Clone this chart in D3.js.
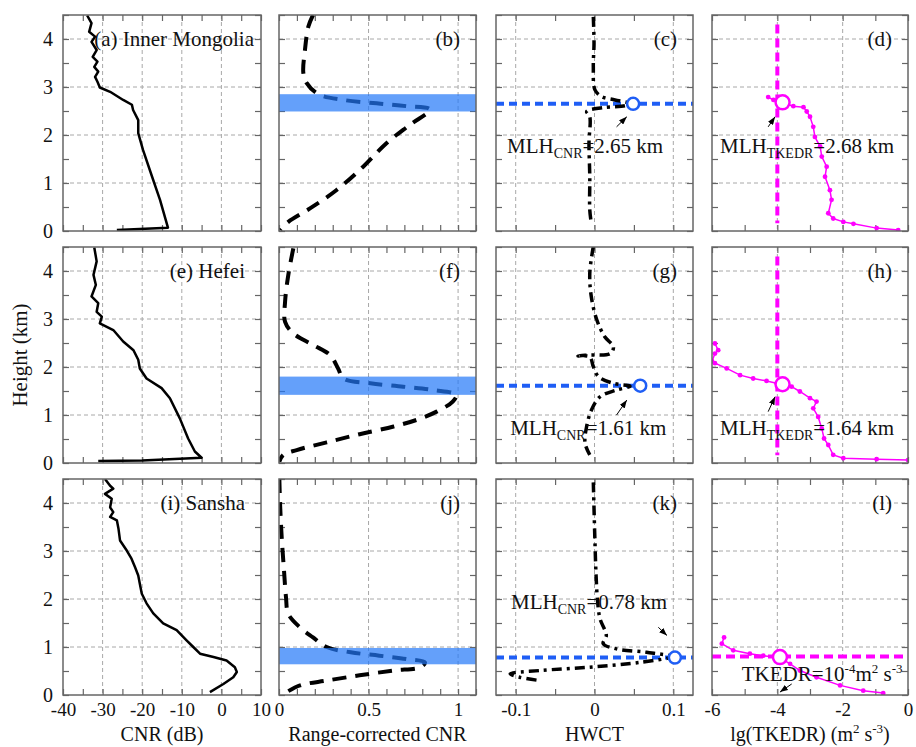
<!DOCTYPE html>
<html>
<head>
<meta charset="utf-8">
<script src="https://cdn.jsdelivr.net/npm/d3@7"></script>
<style>
body { margin: 0; background: #fff; }
text { font-family: "Liberation Serif", "Times New Roman", serif; fill: #111; }
</style>
</head>
<body>
<div id="chart"></div>
<script>
// values: [height (km), value]
const heightTicks = [0, 1, 2, 3, 4];
const cnrTicks = [-40, -30, -20, -10, 0, 10];
const rcnrTicks = [0, 0.5, 1];
const hwctTicks = [-0.1, 0, 0.1];
const tkedrTicks = [-6, -4, -2, 0];

const siteNames = ["(a) Inner Mongolia", "(e) Hefei", "(i) Sansha"];
const panelLabels = [["(b)", "(c)", "(d)"], ["(f)", "(g)", "(h)"], ["(j)", "(k)", "(l)"]];
const mlhCnr = [2.65, 1.61, 0.78];
const mlhTkedr = [2.68, 1.64];
const hwctPeak = [0.049, 0.058, 0.102];
const tkedrCircle = [-3.84, -3.84, -3.92];
const tkedrThresholdHeight = 0.8;
const bands = [[2.49, 2.85], [1.42, 1.80], [0.64, 0.98]];

const cnrA = [[4.49,-33.9],[4.33,-32.8],[4.15,-33.4],[4.05,-31.9],[3.94,-32.8],[3.77,-31.5],[3.63,-32.5],[3.53,-31.3],[3.42,-32.1],[3.32,-31.1],[3.21,-31.9],[3.11,-31.3],[2.99,-30.7],[2.9,-28.1],[2.73,-24.8],[2.63,-22.6],[2.52,-22.3],[2.31,-21],[2.04,-21],[1.69,-19.8],[1.13,-17.5],[0.65,-15.5],[0.07,-13.5],[0.02,-26.4]];
const cnrE = [[4.49,-32.1],[4.2,-31.5],[3.92,-32.3],[3.71,-31.7],[3.47,-32.8],[3.33,-31.1],[3.15,-31.5],[3.05,-30.2],[2.91,-30.7],[2.77,-27.3],[2.53,-24.8],[2.35,-22.2],[2.15,-21],[1.97,-20.6],[1.76,-18.9],[1.56,-15.1],[1.35,-13.0],[0.93,-10.5],[0.51,-8.4],[0.24,-6.7],[0.11,-5.0],[0.05,-20],[0.04,-31.1]];
const cnrI = [[4.5,-29.4],[4.36,-28.1],[4.3,-27.3],[4.19,-29.4],[4.09,-27.7],[3.91,-28.1],[3.81,-27.3],[3.71,-28.1],[3.64,-26.4],[3.47,-26.0],[3.22,-25.6],[3.01,-23.9],[2.84,-22.7],[2.66,-21.8],[2.49,-21.0],[2.32,-20.6],[2.11,-20.1],[1.91,-18.9],[1.7,-17.2],[1.49,-14.7],[1.35,-11.3],[1.14,-8.8],[1.0,-7.1],[0.86,-5.4],[0.79,-2.0],[0.72,1.3],[0.58,3.4],[0.48,3.9],[0.37,3.0],[0.23,0.5],[0.06,-2.9]];

const rcnrB = [[4.5,0.19],[4.26,0.164],[3.77,0.145],[3.29,0.136],[3.08,0.155],[2.85,0.22],[2.73,0.36],[2.66,0.545],[2.6,0.713],[2.53,0.843],[2.21,0.73],[1.83,0.6],[1.34,0.47],[0.85,0.32],[0.47,0.173],[0.19,0.052],[0.02,0.006]];
const rcnrF = [[4.47,0.08],[3.92,0.052],[3.36,0.034],[2.94,0.034],[2.7,0.08],[2.46,0.19],[2.25,0.285],[1.97,0.33],[1.76,0.36],[1.66,0.51],[1.59,0.694],[1.52,0.86],[1.42,0.99],[1.28,0.97],[1.07,0.88],[0.9,0.77],[0.76,0.64],[0.6,0.45],[0.43,0.266],[0.27,0.099],[0.17,0.024],[0.03,0.002]];
const rcnrJ = [[4.5,0.002],[3.98,0.006],[3.29,0.015],[2.59,0.028],[2.04,0.039],[1.69,0.052],[1.41,0.117],[1.2,0.19],[1.0,0.266],[0.89,0.4],[0.82,0.56],[0.75,0.713],[0.68,0.815],[0.58,0.79],[0.51,0.64],[0.41,0.45],[0.3,0.266],[0.2,0.117],[0.06,0.043]];

const hwctC = [[4.46,-0.0015],[3.91,-0.0006],[3.42,-0.0015],[2.94,0.0006],[2.8,0.009],[2.73,0.026],[2.66,0.043],[2.62,0.041],[2.57,0.011],[2.49,-0.01],[2.38,-0.006],[1.83,-0.007],[1.13,-0.006],[0.44,-0.006],[0.16,-0.004]];
const hwctG = [[4.51,-0.0015],[3.95,-0.006],[3.46,-0.004],[2.98,0.003],[2.63,0.013],[2.42,0.024],[2.28,0.02],[2.25,-0.006],[2.23,-0.021],[2.21,-0.006],[2.01,-0.0015],[1.8,0.005],[1.66,0.024],[1.6,0.045],[1.52,0.028],[1.38,0.007],[1.1,-0.004],[0.76,-0.01],[0.41,-0.012],[0.17,-0.006]];
const hwctK = [[4.43,-0.0015],[3.88,-0.0006],[3.18,0.0006],[2.49,0.002],[1.93,0.004],[1.59,0.007],[1.24,0.015],[1.07,0.011],[0.96,0.028],[0.89,0.066],[0.8,0.098],[0.68,0.058],[0.58,-0.006],[0.51,-0.069],[0.44,-0.107],[0.37,-0.095],[0.3,-0.069]];

const tkedrD = [[2.79,-4.28],[2.73,-4.12],[2.68,-3.84],[2.6,-3.51],[2.58,-3.2],[2.49,-3.1],[2.38,-3.0],[2.17,-2.9],[1.96,-2.85],[1.76,-2.69],[1.55,-2.64],[1.34,-2.49],[1.13,-2.54],[0.85,-2.39],[0.65,-2.34],[0.37,-2.44],[0.26,-2.29],[0.19,-1.98],[0.15,-1.67],[0.06,-0.96],[0.02,-0.3]];
const tkedrH = [[2.49,-5.91],[2.35,-5.81],[2.28,-5.91],[2.12,-6.0],[2.08,-5.91],[1.97,-5.55],[1.83,-5.14],[1.76,-4.74],[1.71,-4.33],[1.66,-4.02],[1.63,-3.84],[1.59,-3.56],[1.49,-3.31],[1.35,-3.0],[1.28,-2.8],[1.14,-2.9],[0.96,-2.75],[0.72,-2.64],[0.51,-2.57],[0.375,-2.44],[0.17,-2.29],[0.1,-1.98],[0.08,-0.96],[0.06,0]];
const tkedrL = [[1.2,-5.63],[1.07,-5.7],[0.93,-5.35],[0.86,-4.84],[0.82,-4.43],[0.775,-3.92],[0.65,-3.61],[0.51,-3.31],[0.37,-2.8],[0.2,-2.08],[0.09,-1.37],[0.04,-0.76]];

const cnrSeries = [cnrA, cnrE, cnrI];
const rcnrSeries = [rcnrB, rcnrF, rcnrJ];
const hwctSeries = [hwctC, hwctG, hwctK];
const tkedrSeries = [tkedrD, tkedrH, tkedrL];

// layout
const width = 916, height = 747;
const colX = [[63, 261], [279, 476], [496, 693], [712, 908]];
const rowY = [[15, 231], [247, 463], [479, 695]];
const colDomains = [[-40, 10], [0, 1.1], [-0.125, 0.125], [-6, 0]];
const colMajor = [cnrTicks, rcnrTicks, hwctTicks, tkedrTicks];
const colMinorStep = [5, 0.1, 0.05, 1];
const colTitles = ["CNR (dB)", "Range-corrected CNR", "HWCT", null];
const serif = "Liberation Serif, Times New Roman, serif";

const blue = "#1f5ef5";
const magenta = "#ff00ff";

let svg = d3.select("#chart").append("svg")
  .attr("width", width)
  .attr("height", height);

let defs = svg.append("defs");
defs.append("marker")
  .attr("id", "arrow")
  .attr("markerUnits", "userSpaceOnUse")
  .attr("markerWidth", 8).attr("markerHeight", 6)
  .attr("refX", 8).attr("refY", 3)
  .attr("orient", "auto")
  .append("path").attr("d", "M0,0L8,3L0,6z").attr("fill", "#000");

function minorTicks(domain, step) {
  let out = [];
  let start = Math.ceil(domain[0] / step - 1e-9);
  let end = Math.floor(domain[1] / step + 1e-9);
  for (let i = start; i <= end; i++) out.push(+(i * step).toFixed(4));
  return out;
}

function mlhText(g, x, y, xv, yv, sub, rest) {
  let t = g.append("text")
    .attr("x", x(xv)).attr("y", y(yv))
    .attr("font-size", 21);
  t.append("tspan").text("MLH");
  t.append("tspan").attr("font-size", 14).attr("dy", 5).text(sub);
  t.append("tspan").attr("dy", -5).text(rest);
}

function arrow(g, x, y, from, to) {
  g.append("line")
    .attr("x1", x(from[0])).attr("y1", y(from[1]))
    .attr("x2", x(to[0])).attr("y2", y(to[1]))
    .attr("stroke", "#000").attr("stroke-width", 1)
    .attr("marker-end", "url(#arrow)");
}

for (let r = 0; r < 3; r++) {
  for (let c = 0; c < 4; c++) {
    let [x0, x1] = colX[c];
    let [y0, y1] = rowY[r];
    let x = d3.scaleLinear().domain(colDomains[c]).range([x0, x1]);
    let y = d3.scaleLinear().domain([0, 4.5]).range([y1, y0]);
    let g = svg.append("g");
    let clipId = `clip-${r}-${c}`;
    defs.append("clipPath").attr("id", clipId)
      .append("rect").attr("x", x0).attr("y", y0).attr("width", x1 - x0).attr("height", y1 - y0);

    // grid
    let grid = g.append("g").attr("stroke", "#a8a8a8").attr("stroke-width", 1).attr("stroke-dasharray", "4,3");
    grid.selectAll(".hg").data(heightTicks.filter(d => d > 0))
      .enter().append("line")
      .attr("x1", x0).attr("x2", x1)
      .attr("y1", d => y(d)).attr("y2", d => y(d));
    grid.selectAll(".vg").data(colMajor[c].filter(d => x(d) > x0 + 1 && x(d) < x1 - 1))
      .enter().append("line")
      .attr("y1", y0).attr("y2", y1)
      .attr("x1", d => x(d)).attr("x2", d => x(d));

    // inward ticks on all sides
    let xt = minorTicks(colDomains[c], colMinorStep[c]);
    let yt = minorTicks([0, 4.5], 0.5);
    g.append("g").attr("transform", `translate(0,${y1})`).call(d3.axisTop(x).tickValues(xt).tickFormat("").tickSizeInner(6).tickSizeOuter(0));
    g.append("g").attr("transform", `translate(0,${y0})`).call(d3.axisBottom(x).tickValues(xt).tickFormat("").tickSizeInner(6).tickSizeOuter(0));
    g.append("g").attr("transform", `translate(${x0},0)`).call(d3.axisRight(y).tickValues(yt).tickFormat("").tickSizeInner(6).tickSizeOuter(0));
    g.append("g").attr("transform", `translate(${x1},0)`).call(d3.axisLeft(y).tickValues(yt).tickFormat("").tickSizeInner(6).tickSizeOuter(0));
    g.selectAll(".domain").remove();
    g.selectAll(".tick line").attr("stroke", "#666").attr("stroke-width", 1.2);

    // y labels on first column
    if (c === 0) {
      let la = g.append("g").attr("transform", `translate(${x0 - 4},0)`)
        .call(d3.axisLeft(y).tickValues(heightTicks).tickSize(0).tickPadding(6).tickFormat(d => String(d)));
      la.select(".domain").remove();
      la.attr("font-family", serif);
      la.selectAll("text").attr("font-size", 20).style("font-family", serif).attr("fill", "#111");
    }
    // x labels on bottom row
    if (r === 2) {
      let lb = g.append("g").attr("transform", `translate(0,${y1 + 5})`)
        .call(d3.axisBottom(x).tickValues(colMajor[c]).tickSize(0).tickPadding(2).tickFormat(d => String(d)));
      lb.select(".domain").remove();
      lb.attr("font-family", serif);
      lb.selectAll("text").attr("font-size", 19).style("font-family", serif).attr("fill", "#111");
    }

    let plot = g.append("g").attr("clip-path", `url(#${clipId})`);
    let line = d3.line().x(d => x(d[1])).y(d => y(d[0]));

    if (c === 0) {
      plot.append("path").datum(cnrSeries[r])
        .attr("d", line).attr("fill", "none")
        .attr("stroke", "#000").attr("stroke-width", 2.5).attr("stroke-linejoin", "round");
      g.append("text").attr("x", x1 - (r === 0 ? 7 : 16)).attr("y", y(4) + 7)
        .attr("text-anchor", "end").attr("font-size", 21).text(siteNames[r]);
    }
    if (c === 1) {
      plot.append("path").datum(rcnrSeries[r])
        .attr("d", line.curve(d3.curveCatmullRom.alpha(0.5))).attr("fill", "none")
        .attr("stroke", "#000").attr("stroke-width", 4).attr("stroke-dasharray", "14,9");
      plot.append("rect")
        .attr("x", x0).attr("width", x1 - x0)
        .attr("y", y(bands[r][1])).attr("height", y(bands[r][0]) - y(bands[r][1]))
        .attr("fill", "#2277f8").attr("fill-opacity", 0.7);
    }
    if (c === 2) {
      let tx = [[-0.111, 1.625], [-0.107, 0.58], [-0.106, 1.79]][r];
      mlhText(g, x, y, tx[0], tx[1], "CNR", `=${mlhCnr[r].toFixed(2)} km`);
      plot.append("line")
        .attr("x1", x0).attr("x2", x1)
        .attr("y1", y(mlhCnr[r])).attr("y2", y(mlhCnr[r]))
        .attr("stroke", blue).attr("stroke-width", 4).attr("stroke-dasharray", "8,5");
      plot.append("path").datum(hwctSeries[r])
        .attr("d", line.curve(d3.curveCatmullRom.alpha(0.5))).attr("fill", "none")
        .attr("stroke", "#000").attr("stroke-width", 3.5).attr("stroke-dasharray", "10,5,3,5");
      plot.append("circle")
        .attr("cx", x(hwctPeak[r])).attr("cy", y(mlhCnr[r])).attr("r", 6)
        .attr("fill", "#fff").attr("stroke", blue).attr("stroke-width", 2.5);
      let ar = [[[0.028, 2.17], [0.041, 2.38]], [[0.028, 1.0], [0.041, 1.31]], [[0.081, 1.41], [0.092, 1.24]]][r];
      arrow(g, x, y, ar[0], ar[1]);
    }
    if (c === 3) {
      if (r < 2) {
        plot.append("line")
          .attr("x1", x(-4)).attr("x2", x(-4))
          .attr("y1", y(4.3)).attr("y2", y(0.16))
          .attr("stroke", magenta).attr("stroke-width", 4).attr("stroke-dasharray", "9,5");
      } else {
        plot.append("line")
          .attr("x1", x0).attr("x2", x1)
          .attr("y1", y(tkedrThresholdHeight)).attr("y2", y(tkedrThresholdHeight))
          .attr("stroke", magenta).attr("stroke-width", 4).attr("stroke-dasharray", "9,5");
      }
      plot.append("path").datum(tkedrSeries[r])
        .attr("d", line.curve(d3.curveLinear)).attr("fill", "none")
        .attr("stroke", magenta).attr("stroke-width", 1.5);
      plot.selectAll(".dot").data(tkedrSeries[r])
        .enter().append("circle")
        .attr("cx", d => x(d[1])).attr("cy", d => y(d[0])).attr("r", 2.4)
        .attr("fill", magenta);
      let cy = r < 2 ? mlhTkedr[r] : 0.79;
      plot.append("circle")
        .attr("cx", x(tkedrCircle[r])).attr("cy", y(cy)).attr("r", 7)
        .attr("fill", "#fff").attr("stroke", magenta).attr("stroke-width", 2.5);
      if (r < 2) {
        let tx = [[-5.755, 1.62], [-5.755, 0.58]][r];
        mlhText(g, x, y, tx[0], tx[1], "TKEDR", `=${mlhTkedr[r].toFixed(2)} km`);
        let ar = [[[-4.28, 2.17], [-4.07, 2.38]], [[-4.28, 1.07], [-4.07, 1.38]]][r];
        arrow(g, x, y, ar[0], ar[1]);
      } else {
        let t = g.append("text").attr("x", x(-5.09)).attr("y", y(0.3)).attr("font-size", 21);
        t.append("tspan").text("TKEDR=10");
        t.append("tspan").attr("font-size", 13).attr("dy", -8).text("-4");
        t.append("tspan").attr("dy", 8).text("m");
        t.append("tspan").attr("font-size", 13).attr("dy", -8).text("2");
        t.append("tspan").attr("dy", 8).text(" s");
        t.append("tspan").attr("font-size", 13).attr("dy", -8).text("-3");
        arrow(g, x, y, [-3.56, 0.23], [-3.92, 0.06]);
      }
    }
    if (c > 0) {
      g.append("text").attr("x", x1 - 16).attr("y", y(4) + 7)
        .attr("text-anchor", "end").attr("font-size", 21).text(panelLabels[r][c - 1]);
    }

    // frame
    g.append("rect")
      .attr("x", x0).attr("y", y0).attr("width", x1 - x0).attr("height", y1 - y0)
      .attr("fill", "none").attr("stroke", "#666").attr("stroke-width", 1.5);

    if (r === 2) {
      let cx = (x0 + x1) / 2;
      if (colTitles[c]) {
        svg.append("text").attr("x", cx).attr("y", 741).attr("text-anchor", "middle")
          .attr("font-size", 20).text(colTitles[c]);
      } else {
        let t = svg.append("text").attr("x", cx).attr("y", 741).attr("text-anchor", "middle").attr("font-size", 20);
        t.append("tspan").text("lg(TKEDR) (m");
        t.append("tspan").attr("font-size", 13).attr("dy", -8).text("2");
        t.append("tspan").attr("dy", 8).text(" s");
        t.append("tspan").attr("font-size", 13).attr("dy", -8).text("-3");
        t.append("tspan").attr("dy", 8).text(")");
      }
    }
  }
}

// y axis title
svg.append("text")
  .attr("transform", `translate(27,${(rowY[0][0] + rowY[2][1]) / 2}) rotate(-90)`)
  .attr("text-anchor", "middle")
  .attr("font-size", 21)
  .text("Height (km)");
</script>
</body>
</html>
